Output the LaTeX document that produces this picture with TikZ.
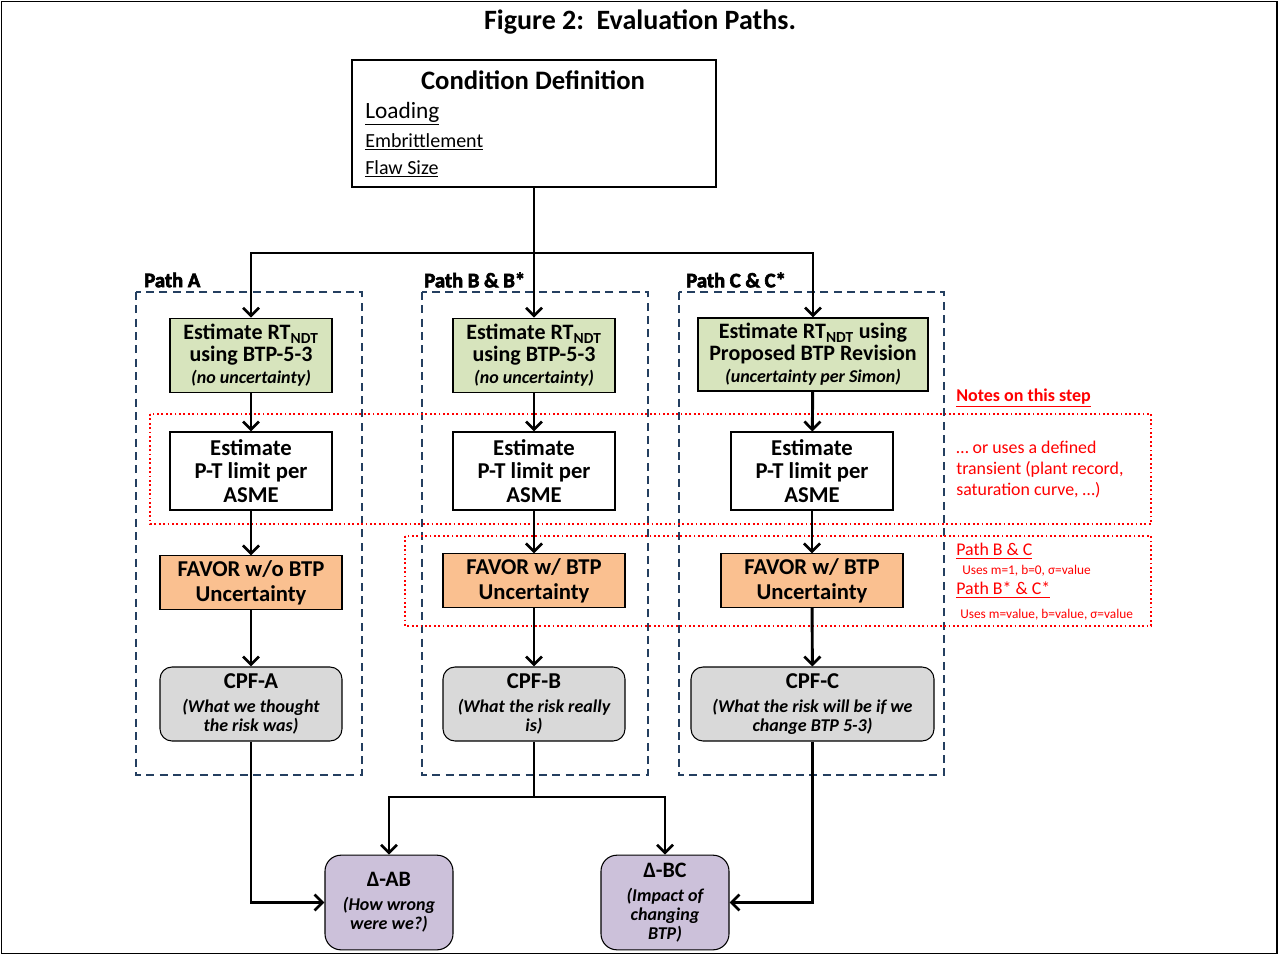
\documentclass[tikz,border=0pt]{standalone}
\usepackage{fontspec}
\setmainfont{Carlito}
\newfontfamily\heavyfont{Carlito Bold}[FakeBold=3]
\usepackage{tikz}
\usetikzlibrary{
    arrows.meta,
    positioning,
    calc
}
\definecolor{rtgreen}{HTML}{D7E4BD}
\definecolor{favororange}{HTML}{FAC090}
\definecolor{cpfgray}{HTML}{D9D9D9}
\definecolor{deltapurple}{HTML}{CCC1DA}
\definecolor{pathnavy}{HTML}{243F60}
\definecolor{noterred}{HTML}{FF0000}
\newcommand{\subnote}[1]{{\fontsize{13.5}{14}\selectfont\itshape #1}}
\tikzset{
    stepbox/.style={
        rectangle, draw=black, line width=0.8pt,
        align=center, inner sep=1pt,
        font=\fontsize{17}{17.5}\selectfont\bfseries
    },
    rt box/.style={
        stepbox, fill=rtgreen, minimum width=121.5pt, minimum height=56pt,
        font=\fontsize{16.5}{16.5}\selectfont\bfseries
    },
    pt box/.style={
        stepbox, fill=white, minimum width=121.5pt, minimum height=58.5pt
    },
    favor box/.style={
        stepbox, fill=favororange, minimum width=136.5pt, minimum height=40pt,
        font=\fontsize{17}{18.5}\selectfont\bfseries
    },
    cpf box/.style={
        stepbox, fill=cpfgray, rounded corners=9pt,
        minimum width=136.5pt, minimum height=55.5pt,
        font=\fontsize{17}{14}\selectfont\bfseries
    },
    delta box/.style={
        stepbox, fill=deltapurple, rounded corners=12pt,
        minimum width=96pt, minimum height=71pt,
        font=\fontsize{16.5}{14}\selectfont\bfseries
    },
    path box/.style={
        draw=pathnavy, line width=1.1pt, dash pattern=on 6pt off 4pt
    },
    path label/.style={
        anchor=west, inner sep=0pt, font=\fontsize{15.5}{17}\heavyfont
    },
    note box/.style={
        draw=noterred, line width=1.3pt, dotted
    },
    note text/.style={
        anchor=west, text=noterred, align=left, inner sep=0pt,
        font=\fontsize{13.4}{15.75}\selectfont
    },
    note small/.style={
        anchor=west, text=noterred, inner sep=0pt,
        font=\fontsize{10}{12}\selectfont
    },
    flow line/.style={
        line width=2.2pt, black
    },
    flow/.style={
        flow line, -{Straight Barb[length=6pt,width=12pt,line width=2pt]}
    },
}

\begin{document}
\begin{tikzpicture}[x=0.75pt,y=-0.75pt]

    \useasboundingbox (0,0) rectangle (1279,956);
    \draw[line width=1.2pt] (1.5,1.5) rectangle (1277,953.5);

    % Title
    \node[font=\fontsize{21}{24}\selectfont\bfseries] (title) at (640,22) {Figure 2:\ \ Evaluation Paths.};

    % Condition definition
    \node[rectangle, draw=black, line width=0.8pt, minimum width=273pt, minimum height=95.25pt] (cond) at (534,123.5) {};
    \node[font=\fontsize{20}{22}\selectfont\bfseries] (condtitle) at (533,80) {Condition Definition};
    \node[anchor=west, inner sep=0pt, font=\fontsize{17.5}{20}\selectfont] (loading) at (365,114) {\underline{Loading}};
    \node[anchor=west, inner sep=0pt, font=\fontsize{15}{18}\selectfont] (embrit) at (365,142) {\underline{Embrittlement}};
    \node[anchor=west, inner sep=0pt, font=\fontsize{15}{18}\selectfont] (flaw) at (365,169) {\underline{Flaw Size}};

    % Path frames
    \draw[path box] (136,292) rectangle (362,775);
    \draw[path box] (422,292) rectangle (648,775);
    \draw[path box] (679,292) rectangle (944,775);
    \node[path label] (labelA) at (144,280) {Path A};
    \node[path label] (labelB) at (424,280) {Path B \& B*};
    \node[path label] (labelC) at (686,280) {Path C \& C*};

    % Path A
    \node[rt box] (rtA) at (251,355.5) {Estimate RT\textsubscript{NDT}\\using BTP-5-3\\\subnote{(no uncertainty)}};
    \node[pt box] (ptA) at (251,471) {Estimate\\P-T limit per\\ASME};
    \node[favor box] (favA) at (251,582.5) {FAVOR w/o BTP\\Uncertainty};
    \node[cpf box] (cpfA) at (251,704) {CPF-A\\[4pt]\subnote{(What we thought}\\\subnote{the risk was)}};

    % Path B
    \node[rt box] (rtB) at (534,355.5) {Estimate RT\textsubscript{NDT}\\using BTP-5-3\\\subnote{(no uncertainty)}};
    \node[pt box] (ptB) at (534,471) {Estimate\\P-T limit per\\ASME};
    \node[favor box] (favB) at (534,580.5) {FAVOR w/ BTP\\Uncertainty};
    \node[cpf box] (cpfB) at (534,704) {CPF-B\\[4pt]\subnote{(What the risk really}\\\subnote{is)}};

    % Path C
    \node[rt box, minimum width=172.5pt, minimum height=54.75pt] (rtC) at (813,354.5) {Estimate RT\textsubscript{NDT} using\\Proposed BTP Revision\\\subnote{(uncertainty per Simon)}};
    \node[pt box] (ptC) at (812,471) {Estimate\\P-T limit per\\ASME};
    \node[favor box] (favC) at (812,580.5) {FAVOR w/ BTP\\Uncertainty};
    \node[cpf box, minimum width=182.25pt] (cpfC) at (812.5,704) {CPF-C\\[4pt]\subnote{(What the risk will be if we}\\\subnote{change BTP 5-3)}};

    % Deltas
    \node[delta box] (dAB) at (389,902.5) {Δ-AB\\[4pt]\subnote{(How wrong}\\\subnote{were we?)}};
    \node[delta box] (dBC) at (665,902.5) {Δ-BC\\[4pt]\subnote{(Impact of}\\\subnote{changing}\\\subnote{BTP)}};

    % Notes
    \draw[note box] (150,414) rectangle (1151,524);
    \draw[note box] (405,536) rectangle (1151,626);
    \node[note text, font=\fontsize{13.5}{16}\selectfont\bfseries] (notehead) at (956,398) {\underline{Notes on this step}};
    \node[note text] (notept) at (956,470) {\dots\ or uses a defined\\transient (plant record,\\saturation curve, \dots)};
    \node[note text] (notebc) at (956,551) {\underline{Path B \& C}};
    \node[note small] (usesbc) at (962,571) {Uses m=1, b=0, σ=value};
    \node[note text] (notebcs) at (956,590) {\underline{Path B* \& C*}};
    \node[note small] (usesbcs) at (960,615) {Uses m=value, b=value, σ=value};

    % Flows
    \coordinate (split) at (534,253);
    \coordinate (merge) at (534,797);
    \draw[flow] (cond) -- (rtB);
    \draw[flow] (split) -| (rtA);
    \draw[flow] (split) -| (rtC);
    \foreach \p in {A,B,C} {
        \draw[flow] (rt\p) -- (pt\p);
        \draw[flow] (pt\p) -- (fav\p);
        \draw[flow] (fav\p) -- (cpf\p);
    }
    \draw[flow] (cpfA) |- (dAB);
    \draw[flow] (cpfC) |- (dBC);
    \draw[flow line] (cpfB) -- (merge);
    \draw[flow] (merge) -| (dAB);
    \draw[flow] (merge) -| (dBC);

\end{tikzpicture}
\end{document}
